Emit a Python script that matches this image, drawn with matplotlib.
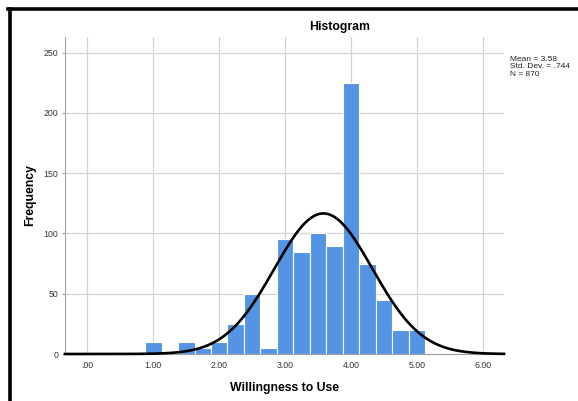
import numpy as np
import matplotlib.pyplot as plt
from matplotlib.lines import Line2D

plt.rcParams['font.family'] = ['Liberation Sans', 'DejaVu Sans']

# histogram bins (bin width .25)
bin_centers = [1.00, 1.25, 1.50, 1.75, 2.00, 2.25, 2.50, 2.75, 3.00,
               3.25, 3.50, 3.75, 4.00, 4.25, 4.50, 4.75, 5.00]
frequencies = [10, 0, 10, 5, 10, 25, 50, 5, 95,
               85, 100, 90, 225, 75, 45, 20, 20]
bin_width = 0.25

mean_val = 3.58
std_val = 0.744
n_val = 870

x_ticks = [0, 1, 2, 3, 4, 5, 6]
x_tick_labels = ['.00', '1.00', '2.00', '3.00', '4.00', '5.00', '6.00']
y_ticks = [0, 50, 100, 150, 200, 250]

W, H = 578, 401
fig = plt.figure(figsize=(W / 100, H / 100), dpi=100)
ax = fig.add_axes([65 / W, 1 - 354 / H, (504 - 65) / W, (354 - 37) / H])

ax.bar(bin_centers, frequencies, width=bin_width, color='#5594e4',
       edgecolor='white', linewidth=0.8, zorder=3)

# fitted normal curve
xs = np.linspace(-0.34, 6.32, 400)
ys = n_val * bin_width / (std_val * np.sqrt(2 * np.pi)) * np.exp(-0.5 * ((xs - mean_val) / std_val) ** 2)
ax.plot(xs, ys, color='black', lw=1.9, zorder=4, clip_on=False)

ax.set_xlim(-0.34, 6.32)
ax.set_ylim(0, 263)
ax.set_xticks(x_ticks)
ax.set_xticklabels(x_tick_labels)
ax.set_yticks(y_ticks)
ax.grid(True, color='#d4d4d4', lw=0.9, zorder=0)
ax.set_axisbelow(True)
for s in ['top', 'right']:
    ax.spines[s].set_visible(False)
ax.spines['left'].set_color('#a0a0a0')
ax.spines['bottom'].set_color('#a0a0a0')
ax.tick_params(axis='both', labelsize=6.3, labelcolor='#333333', colors='#a0a0a0',
               length=0, pad=5)
ax.tick_params(axis='y', length=2, pad=3)

fig.text(340 / W, 1 - 27 / H, 'Histogram', fontsize=8.8, fontweight='bold',
         ha='center', va='center')
ax.set_xlabel('Willingness to Use', fontsize=8.8, fontweight='bold', labelpad=9)
ax.set_ylabel('Frequency', fontsize=8.8, fontweight='bold')
ax.yaxis.set_label_coords((36 - 65) / (504 - 65), 0.5)

fig.text(510 / W, 1 - 56 / H,
         f'Mean = {mean_val}\nStd. Dev. = {str(std_val)[1:]}\nN = {n_val}',
         fontsize=6.0, va='top', ha='left', linespacing=1.1, color='#222222')

# black frame at left and top
fig.add_artist(Line2D([9.5 / W, 9.5 / W], [0, 1 - 8.5 / H], color='black', lw=2.6,
                      transform=fig.transFigure))
fig.add_artist(Line2D([8 / W, 1], [1 - 8.5 / H, 1 - 8.5 / H], color='black', lw=2.6,
                      transform=fig.transFigure))

fig.savefig('out.png', dpi=100)
